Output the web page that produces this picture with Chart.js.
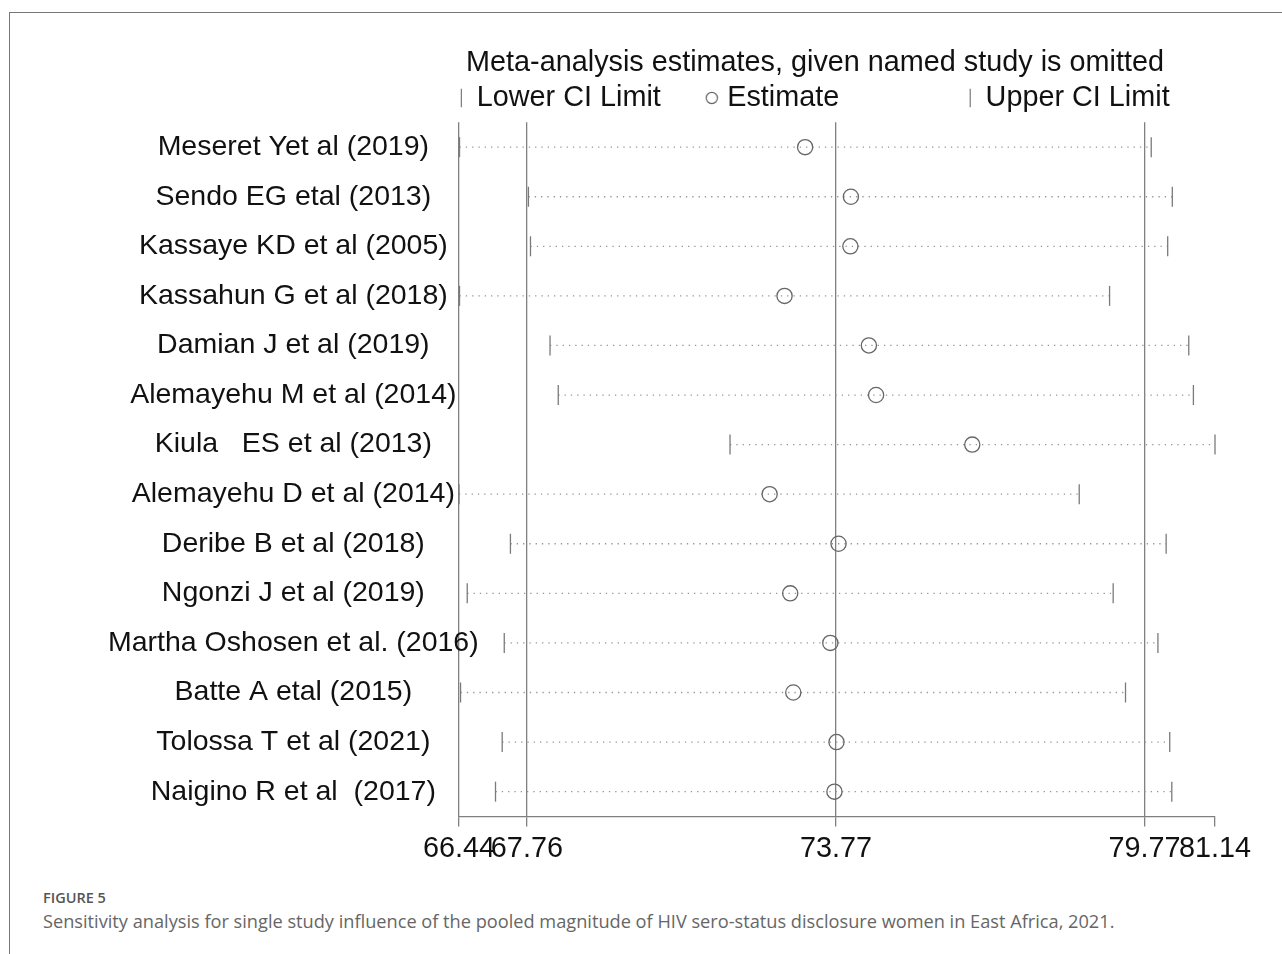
<!DOCTYPE html>
<html>
<head>
<meta charset="utf-8">
<script src="https://cdn.jsdelivr.net/npm/chart.js@4.4.0/dist/chart.umd.min.js"></script>
<style>
  html, body { margin: 0; padding: 0; background: #fff; overflow: hidden; }
  .page { position: relative; width: 1282px; height: 954px; overflow: hidden; }
  .frame { position: absolute; left: 9px; top: 12px; width: 1280px; height: 950px;
           border-left: 1.5px solid #777; border-top: 1.5px solid #777; }
  /* wider than the window so that title and legend centre over the plot like in the figure */
  .chartbox { position: absolute; left: 0; top: 0; width: 1630px; height: 873px; }
  .fig { position: absolute; left: 43px; top: 888px; font: 600 14.5px 'Open Sans', sans-serif; color: #555; }
  .cap { position: absolute; left: 43px; top: 909px; font: 18.2px 'Open Sans', sans-serif; color: #666; white-space: nowrap; }
</style>
</head>
<body>
<div class="page">
  <div class="frame"></div>
  <div class="chartbox"><canvas id="myChart"></canvas></div>
  <div class="fig">FIGURE 5</div>
  <div class="cap">Sensitivity analysis for single study influence of the pooled magnitude of HIV sero-status disclosure women in East Africa, 2021.</div>
</div>
<script>
const studies = [
  'Meseret Yet al (2019)',
  'Sendo EG etal (2013)',
  'Kassaye KD et al (2005)',
  'Kassahun G et al (2018)',
  'Damian J et al (2019)',
  'Alemayehu M et al (2014)',
  'Kiula   ES et al (2013)',
  'Alemayehu D et al (2014)',
  'Deribe B et al (2018)',
  'Ngonzi J et al (2019)',
  'Martha Oshosen et al. (2016)',
  'Batte A etal (2015)',
  'Tolossa T et al (2021)',
  'Naigino R et al  (2017)'
];
const lowerCI = [66.45, 67.79, 67.83, 66.45, 68.21, 68.37, 71.71, 66.44, 67.44, 66.60, 67.32, 66.47, 67.28, 67.15];
const estimate = [73.17, 74.06, 74.05, 72.77, 74.41, 74.55, 76.42, 72.48, 73.82, 72.88, 73.66, 72.94, 73.78, 73.74];
const upperCI = [79.90, 80.31, 80.22, 79.09, 80.63, 80.72, 81.14, 78.50, 80.19, 79.16, 80.03, 79.40, 80.26, 80.30];
const xTicks = [66.44, 67.76, 73.77, 79.77, 81.14];
const xTickLabels = ['66.44', '67.76', '73.77', '79.77', '81.14'];

const FONT = "'Liberation Sans', Arial, Helvetica, sans-serif";
const GRAY = '#808080';

// Stata puts legend keys in fixed columns, pad labels with spaces to get the same gaps
const legendGaps = [6, 16, 0];

// the legend key circle is smaller than the plot markers
function smallCircle() {
  const c = document.createElement('canvas');
  c.width = 14;
  c.height = 14;
  const g = c.getContext('2d');
  g.strokeStyle = '#666666';
  g.lineWidth = 1.2;
  g.beginPath();
  g.arc(7, 7, 5.6, 0, Math.PI * 2);
  g.stroke();
  return c;
}

const markers = [
  {
    label: 'Lower CI Limit',
    data: lowerCI.map((v, i) => ({ x: v, y: studies[i] })),
    pointStyle: 'line',
    pointRotation: 90,
    pointRadius: 10,
    borderColor: '#7a7a7a',
    borderWidth: 1.3,
    showLine: false,
    clip: false
  },
  {
    label: 'Estimate',
    data: estimate.map((v, i) => ({ x: v, y: studies[i] })),
    pointStyle: 'circle',
    pointRadius: 7.6,
    borderColor: '#666666',
    backgroundColor: 'rgba(0,0,0,0)',
    borderWidth: 1.3,
    showLine: false,
    clip: false
  },
  {
    label: 'Upper CI Limit',
    data: upperCI.map((v, i) => ({ x: v, y: studies[i] })),
    pointStyle: 'line',
    pointRotation: 90,
    pointRadius: 10,
    borderColor: '#7a7a7a',
    borderWidth: 1.3,
    showLine: false,
    clip: false
  }
];

// one dotted segment per study, from lower to upper limit
const spans = studies.map((s, i) => ({
  label: s,
  data: [{ x: lowerCI[i], y: s }, { x: upperCI[i], y: s }],
  showLine: true,
  pointRadius: 0,
  borderColor: '#959595',
  borderWidth: 1.3,
  borderDash: [1.3, 5],
  clip: false
}));

const legendCircle = smallCircle();
const ctx = document.getElementById('myChart').getContext('2d');

new Chart(ctx, {
  type: 'scatter',
  data: { datasets: markers.concat(spans) },
  options: {
    responsive: true,
    maintainAspectRatio: false,
    animation: false,
    events: [],
    layout: { padding: { left: 0, right: 0, top: 0, bottom: 2 } },
    plugins: {
      tooltip: { enabled: false },
      title: {
        display: true,
        text: 'Meta-analysis estimates, given named study is omitted',
        color: '#111',
        font: { family: FONT, size: 28.8, weight: 'normal' },
        padding: { top: 45.5, bottom: 1.5 }
      },
      legend: {
        display: true,
        position: 'top',
        labels: {
          usePointStyle: true,
          boxWidth: 2,
          boxHeight: 13,
          padding: 2,
          color: '#111',
          font: { family: FONT, size: 28.8 },
          generateLabels(chart) {
            return chart.data.datasets.slice(0, 3).map((ds, i) => ({
              text: ds.label + ' '.repeat(legendGaps[i]),
              pointStyle: ds.pointStyle === 'circle' ? legendCircle : ds.pointStyle,
              rotation: ds.pointRotation || 0,
              strokeStyle: ds.borderColor,
              fillStyle: 'rgba(0,0,0,0)',
              lineWidth: 1.2,
              fontColor: '#111',
              hidden: false,
              datasetIndex: i
            }));
          }
        }
      }
    },
    scales: {
      x: {
        type: 'linear',
        min: xTicks[0],
        max: xTicks[xTicks.length - 1],
        afterBuildTicks(scale) {
          scale.ticks = xTicks.map((v) => ({ value: v }));
        },
        ticks: {
          autoSkip: false,
          maxRotation: 0,
          padding: 5,
          color: '#111',
          font: { family: FONT, size: 28.8 },
          callback(value) {
            const k = xTicks.indexOf(value);
            return k >= 0 ? xTickLabels[k] : '';
          }
        },
        grid: {
          drawOnChartArea: true,
          tickLength: 10,
          lineWidth: 1.3,
          tickColor: GRAY,
          // no reference line at the upper bound, only the tick mark
          color(c) {
            return c.tick && c.tick.value === xTicks[xTicks.length - 1] ? 'rgba(0,0,0,0)' : GRAY;
          }
        },
        border: { display: true, color: GRAY, width: 1.3 }
      },
      y: {
        type: 'category',
        labels: studies,
        offset: true,
        position: 'left',
        afterFit(scale) {
          scale.width = 459;
        },
        // mirror only so the long names may run past the axis edge (they do in the figure)
        ticks: {
          autoSkip: false,
          mirror: true,
          crossAlign: 'center',
          padding: -351,
          color: '#111',
          font: { family: FONT, size: 28.5 }
        },
        grid: { display: false, drawTicks: false },
        border: { display: false }
      },
      // empty axis that only keeps the plot's right edge at 81.14
      yr: {
        type: 'linear',
        position: 'right',
        afterFit(scale) {
          scale.width = 415;
        },
        ticks: { display: false },
        grid: { display: false },
        border: { display: false }
      }
    }
  }
});
</script>
</body>
</html>
